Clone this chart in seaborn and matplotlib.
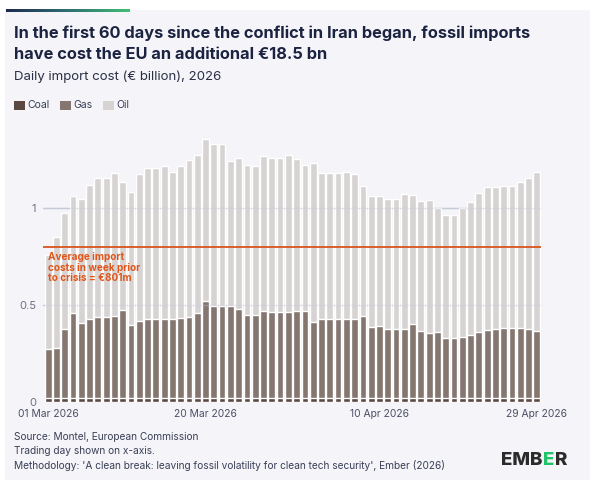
import numpy as np
import pandas as pd
import matplotlib
matplotlib.use('Agg')
import matplotlib.pyplot as plt
from matplotlib.patches import Rectangle
from matplotlib.colors import LinearSegmentedColormap
import seaborn as sns

# Daily import cost (EUR billion), 01 Mar - 29 Apr 2026
total = [0.76, 0.853, 0.978, 1.066, 1.049, 1.121, 1.156, 1.156, 1.185, 1.138,
         1.086, 1.176, 1.207, 1.211, 1.219, 1.187, 1.218, 1.250, 1.275, 1.359,
         1.333, 1.333, 1.244, 1.261, 1.225, 1.219, 1.269, 1.259, 1.259, 1.276,
         1.256, 1.225, 1.235, 1.181, 1.181, 1.181, 1.187, 1.178, 1.116, 1.064,
         1.064, 1.047, 1.047, 1.074, 1.068, 1.038, 1.045, 1.000, 0.967, 0.967,
         1.000, 1.033, 1.078, 1.111, 1.111, 1.118, 1.118, 1.138, 1.156, 1.187]
# coal + gas (top of the gas segment)
gas_top = [0.271, 0.276, 0.376, 0.457, 0.409, 0.426, 0.44, 0.44, 0.443, 0.474,
           0.398, 0.416, 0.426, 0.428, 0.428, 0.426, 0.433, 0.436, 0.46, 0.521,
           0.495, 0.495, 0.495, 0.48, 0.449, 0.447, 0.471, 0.462, 0.462, 0.462,
           0.468, 0.468, 0.412, 0.426, 0.426, 0.426, 0.426, 0.426, 0.445, 0.388,
           0.393, 0.376, 0.376, 0.378, 0.402, 0.367, 0.354, 0.361, 0.33, 0.33,
           0.335, 0.343, 0.361, 0.371, 0.376, 0.38, 0.38, 0.38, 0.378, 0.366]
coal = [0.02, 0.02, 0.02, 0.02, 0.02, 0.02, 0.02, 0.02, 0.02, 0.02,
        0.02, 0.02, 0.02, 0.02, 0.02, 0.02, 0.02, 0.02, 0.02, 0.02,
        0.02, 0.02, 0.02, 0.02, 0.02, 0.02, 0.02, 0.02, 0.02, 0.02,
        0.02, 0.02, 0.02, 0.02, 0.02, 0.02, 0.02, 0.02, 0.02, 0.02,
        0.02, 0.02, 0.02, 0.02, 0.02, 0.02, 0.02, 0.02, 0.02, 0.02,
        0.02, 0.02, 0.02, 0.02, 0.02, 0.02, 0.02, 0.02, 0.02, 0.02]
days = pd.date_range('2026-03-01', periods=60, freq='D').strftime('%d %b %Y').tolist()
tick_idx = [0, 19, 40, 59]
avg_pre_crisis = 0.801

df = pd.DataFrame({'day': days, 'total': total, 'gas_top': gas_top, 'coal': coal})

bg = '#f4f4f9'
c_coal, c_gas, c_oil = '#5b4843', '#857670', '#d7d3d3'
navy = '#1c2340'
grey = '#6b7082'

sns.set_theme(style='white')
plt.rcParams['font.family'] = ['Inter', 'DejaVu Sans']

W, H = 593, 490
fig = plt.figure(figsize=(W / 100, H / 100), dpi=100)
fig.patch.set_facecolor('white')
fig.patches.append(Rectangle((5 / W, 10 / H), 585 / W, 470 / H, transform=fig.transFigure,
                             facecolor=bg, edgecolor='none', zorder=-5))

# gradient accent bar top-left
gax = fig.add_axes([6 / W, 1 - 12 / H, 124 / W, 2.5 / H])
grad = np.linspace(0, 1, 256).reshape(1, -1)
gax.imshow(grad, aspect='auto', cmap=LinearSegmentedColormap.from_list('acc', ['#1d2a4f', '#2f6f73', '#3fbf74']))
gax.axis('off')

ax = fig.add_axes([43 / W, 88.3 / H, 498 / W, 270.6 / H])
ax.set_facecolor(bg)

for v in [0.5, 1.0]:
    ax.axhline(v, color='#c6cad8', lw=1, zorder=0)

sns.barplot(data=df, x='day', y='total', color=c_oil, saturation=1, width=0.82, ax=ax, zorder=2)
sns.barplot(data=df, x='day', y='gas_top', color=c_gas, saturation=1, width=0.82, ax=ax, zorder=2)
sns.barplot(data=df, x='day', y='coal', color=c_coal, saturation=1, width=0.82, ax=ax, zorder=2)

for v in [0.5, 1.0]:
    ax.axhline(v, color='#c6cad8', lw=1, alpha=0.35, zorder=3)

ax.axhline(avg_pre_crisis, color='#d9541e', lw=1.3, zorder=4)
ax.text(-0.05, 0.772, 'Average import\ncosts in week prior\nto crisis = €801m',
        color='#e0561a', fontsize=7.2, fontweight='bold', va='top', ha='left',
        linespacing=1.05, zorder=5)

ax.set_xlim(-0.62, 59.5)
ax.set_ylim(0, 1.4)
ax.set_yticks([0, 0.5, 1])
ax.set_yticklabels(['0', '0.5', '1'])
ax.set_xticks(tick_idx)
ax.set_xticklabels([days[i] for i in tick_idx])
ax.set_xlabel('')
ax.set_ylabel('')
ax.tick_params(axis='y', length=0, pad=5, labelsize=8, labelcolor=grey)
ax.tick_params(axis='x', length=3, width=0.8, color='#b8bccb', pad=2, labelsize=7.4, labelcolor='#4a4f63')
sns.despine(ax=ax, left=True, bottom=True)

# titles
fig.text(14 / W, 1 - 38 / H, 'In the first 60 days since the conflict in Iran began, fossil imports',
         fontsize=11.8, fontweight='bold', color=navy, va='baseline')
fig.text(14 / W, 1 - 59 / H, 'have cost the EU an additional €18.5 bn',
         fontsize=11.8, fontweight='bold', color=navy, va='baseline')
fig.text(14 / W, 1 - 80 / H, 'Daily import cost (€ billion), 2026',
         fontsize=9.5, color='#2a2f45', va='baseline')

# legend
for x0, lab, col in [(14, 'Coal', c_coal), (60, 'Gas', c_gas), (103, 'Oil', c_oil)]:
    fig.patches.append(Rectangle((x0 / W, 1 - 110 / H), 11 / W, 9 / H, transform=fig.transFigure,
                                 facecolor=col, edgecolor='none'))
    fig.text((x0 + 13) / W, 1 - 105.5 / H, lab, fontsize=7.5, color='#3a3f55', va='center')

# footer
for y, s in [(437, 'Source: Montel, European Commission'),
             (451, 'Trading day shown on x-axis.'),
             (465, "Methodology: 'A clean break: leaving fossil volatility for clean tech security', Ember (2026)")]:
    fig.text(14 / W, 1 - y / H, s, fontsize=7.3, color='#3b4056', va='center')

# logo
fig.canvas.draw()
r = fig.canvas.get_renderer()
x = 501 / W
for part, col in [('EMB', '#2b2b2b'), ('E', '#22c36b'), ('R', '#2b2b2b')]:
    t = fig.text(x, 1 - 460 / H, part, fontsize=13.5, fontweight='heavy', color=col, va='center')
    bb = t.get_window_extent(renderer=r)
    x += (bb.width + 0.8) / W

fig.savefig('out.png', dpi=100, facecolor=fig.get_facecolor())
